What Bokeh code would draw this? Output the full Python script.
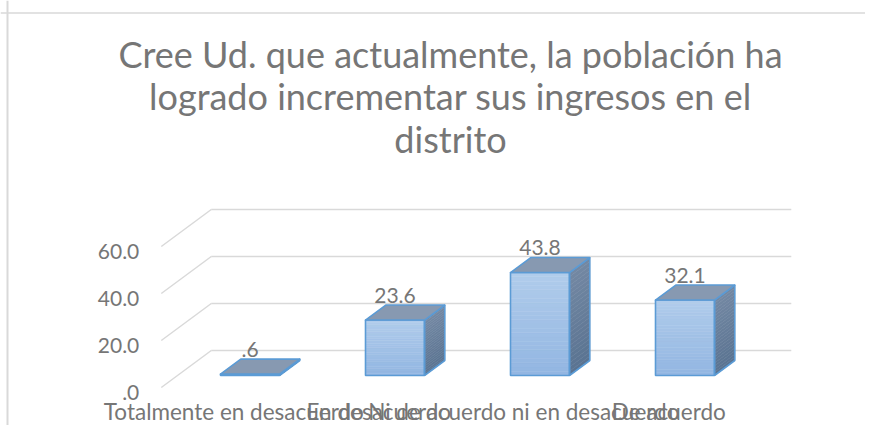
from bokeh.plotting import figure
from bokeh.models import Range1d, Span
from bokeh.core.properties import value
from bokeh.embed import file_html
from bokeh.resources import INLINE

# ---------------- data ----------------
title_lines = ["Cree Ud. que actualmente, la población ha",
               "logrado incrementar sus ingresos en el",
               "distrito"]
categories = ["Totalmente en desacuerdo", "En desacuerdo",
              "Ni de acuerdo ni en desacuerdo", "De acuerdo"]
values = [0.6, 23.6, 43.8, 32.1]
value_labels = [".6", "23.6", "43.8", "32.1"]
y_ticks = [0, 20, 40, 60]
y_tick_labels = [".0", "20.0", "40.0", "60.0"]

# ---------------- layout ----------------
W, H = 865, 425
PX_CAT = 145.0      # pixels per category
PX_VAL = 2.35       # pixels per value unit
ORIGIN_X = 249.5    # canvas x of category 0 (bar front plane)
ORIGIN_Y = 375.0    # canvas y of value 0 (bar front plane)

def cx(px):
    return (px - ORIGIN_X) / PX_CAT

def cy(py):
    return (ORIGIN_Y - py) / PX_VAL

FLOOR_DX = 50 / PX_CAT
FLOOR_DY = 37 / PX_VAL
front_f, back_f, bar_f = -12 / 37, 25 / 37, 15 / 37
front_dx, front_dy = FLOOR_DX * front_f, FLOOR_DY * front_f
back_dx, back_dy = FLOOR_DX * back_f, FLOOR_DY * back_f
bar_dx, bar_dy = FLOOR_DX * bar_f, FLOOR_DY * bar_f
BAR_W = 59 / PX_CAT

n = len(categories)
x_lo, x_hi = -0.5, n - 0.5

TEXT = "#767676"
GRID = "#D9D9D9"
EDGE = "#5B9BD5"
FONT = value("Lato")

p = figure(width=W, height=H, output_backend="svg", toolbar_location=None,
           x_range=Range1d(cx(0), cx(W)), y_range=Range1d(cy(H), cy(0)),
           min_border=0)
p.xaxis.visible = False
p.yaxis.visible = False
p.xgrid.visible = False
p.ygrid.visible = False
p.outline_line_color = None
p.background_fill_color = "white"
p.border_fill_color = "white"

# chart-area border (top and left only visible in the crop)
p.add_layout(Span(location=cy(12.5), dimension="width", line_color=GRID, line_width=1.5))
p.add_layout(Span(location=cx(7), dimension="height", line_color=GRID, line_width=2))

# ---------------- gridlines: back wall + floor-side diagonals ----------------
p.segment(x0=[x_lo + back_dx] * len(y_ticks), y0=[t + back_dy for t in y_ticks],
          x1=[x_hi + back_dx] * len(y_ticks), y1=[t + back_dy for t in y_ticks],
          line_color=GRID, line_width=1.5)
p.segment(x0=[x_lo + front_dx] * len(y_ticks), y0=[t + front_dy for t in y_ticks],
          x1=[x_lo + back_dx] * len(y_ticks), y1=[t + back_dy for t in y_ticks],
          line_color=GRID, line_width=1.5)

# tick labels
p.text(x=[x_lo + front_dx] * len(y_ticks), y=[t + front_dy for t in y_ticks],
       text=y_tick_labels, text_align="right", text_baseline="middle",
       x_offset=-22, y_offset=5, text_font=FONT, text_font_size="21px", text_color=TEXT)

# ---------------- 3D bars ----------------
def lerp(c1, c2, t):
    a = [int(c1[i:i + 2], 16) for i in (1, 3, 5)]
    b = [int(c2[i:i + 2], 16) for i in (1, 3, 5)]
    return "#%02x%02x%02x" % tuple(round(a[k] + (b[k] - a[k]) * t) for k in range(3))

NSTRIP = 24
for i, v in enumerate(values):
    l, r = i - BAR_W / 2, i + BAR_W / 2
    # front face gradient
    xs, ys, cols = [], [], []
    for k in range(NSTRIP):
        y0 = v * k / NSTRIP
        y1 = v * (k + 1) / NSTRIP
        xs.append([l, r, r, l])
        ys.append([y0, y0, y1, y1])
        cols.append(lerp("#93B6E2", "#B0CCEB", k / (NSTRIP - 1)))
    p.patches(xs=xs, ys=ys, fill_color=cols, line_color=cols, line_width=0.5)
    # side face gradient
    xs, ys, cols = [], [], []
    for k in range(NSTRIP):
        y0 = v * k / NSTRIP
        y1 = v * (k + 1) / NSTRIP
        xs.append([r, r + bar_dx, r + bar_dx, r])
        ys.append([y0, y0 + bar_dy, y1 + bar_dy, y1])
        cols.append(lerp("#5A7391", "#7388A3", k / (NSTRIP - 1)))
    p.patches(xs=xs, ys=ys, fill_color=cols, line_color=cols, line_width=0.5)

# outlines + top faces
front_x = [[i - BAR_W / 2, i + BAR_W / 2, i + BAR_W / 2, i - BAR_W / 2] for i in range(n)]
front_y = [[0, 0, v, v] for v in values]
p.patches(xs=front_x, ys=front_y, fill_color=None, line_color=EDGE, line_width=1.6)
side_x = [[i + BAR_W / 2, i + BAR_W / 2 + bar_dx, i + BAR_W / 2 + bar_dx, i + BAR_W / 2] for i in range(n)]
side_y = [[0, bar_dy, v + bar_dy, v] for v in values]
p.patches(xs=side_x, ys=side_y, fill_color=None, line_color=EDGE, line_width=1.6)
top_x = [[i - BAR_W / 2, i + BAR_W / 2, i + BAR_W / 2 + bar_dx, i - BAR_W / 2 + bar_dx] for i in range(n)]
top_y = [[v, v, v + bar_dy, v + bar_dy] for v in values]
p.patches(xs=top_x, ys=top_y, fill_color="#8799B1", line_color=EDGE, line_width=1.6,
          line_join="round")

# value labels
p.text(x=list(range(n)), y=[v + bar_dy for v in values], text=value_labels,
       text_align="center", text_baseline="middle", y_offset=-10,
       text_font=FONT, text_font_size="21px", text_color=TEXT)

# category labels (front edge of the floor)
p.text(x=[i + front_dx for i in range(n)], y=[front_dy] * n, text=categories,
       text_align="center", text_baseline="middle", y_offset=24,
       text_font=FONT, text_font_size="22.5px", text_color=TEXT)

# title
title_mid = [53, 95, 138]
p.text(x=[cx(450)] * len(title_lines), y=[cy(t) for t in title_mid],
       text=title_lines, text_align="center", text_baseline="middle",
       text_font=FONT, text_font_size="36px", text_color=TEXT)

open("out.html", "w").write(file_html(p, INLINE))
